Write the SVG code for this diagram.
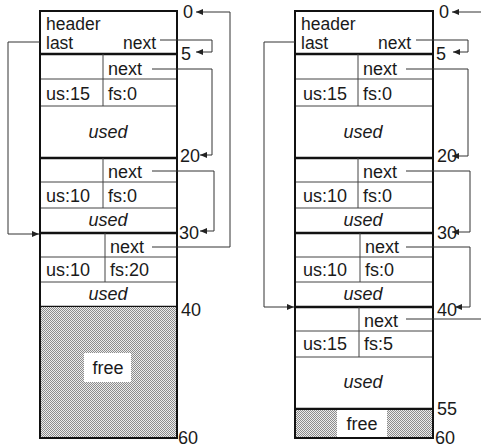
<svg xmlns="http://www.w3.org/2000/svg" width="481" height="447" viewBox="0 0 481 447">
<style>
text{font-family:"Liberation Sans",Arial,sans-serif;font-size:18px;fill:#1a1a1a}
.hd{font-size:17.5px}
.it{font-style:italic}
.mid{text-anchor:middle}
.box{fill:none;stroke:#111;stroke-width:2}
.thick{stroke:#111;stroke-width:2.5}
.thin{stroke:#444;stroke-width:1}
.conn{fill:none;stroke:#333;stroke-width:1}
</style>
<defs>
<pattern id="dots" x="0" y="0" width="2" height="2" patternUnits="userSpaceOnUse">
<rect width="2" height="2" fill="#ececec"/>
<rect width="1" height="1" fill="#8c8c8c"/>
<rect x="1" y="1" width="1" height="1" fill="#8c8c8c"/>
</pattern>
<marker id="arr" markerWidth="7" markerHeight="6" refX="7" refY="3" orient="auto" markerUnits="userSpaceOnUse">
<path d="M0,0 L7,3 L0,6 z" fill="#222"/>
</marker>
</defs>

<g id="left-heap">
<g id="L-header">
<text class="hd" x="46" y="30">header</text>
<text class="hd" x="46" y="49">last</text>
<text class="hd" x="123" y="49">next</text>
<line class="thick" x1="40" y1="54" x2="177" y2="54"/>
</g>
<g id="L-block5">
<line class="thin" x1="103" y1="54" x2="103" y2="106"/>
<line class="thin" x1="40" y1="79" x2="177" y2="79"/>
<line class="thin" x1="40" y1="106" x2="177" y2="106"/>
<text x="108" y="75">next</text>
<text x="46" y="100">us:15</text>
<text x="108" y="100">fs:0</text>
<text class="it mid" x="108" y="138">used</text>
<line class="thick" x1="40" y1="158" x2="177" y2="158"/>
</g>
<g id="L-block20">
<line class="thin" x1="103" y1="158" x2="103" y2="208"/>
<line class="thin" x1="40" y1="182" x2="177" y2="182"/>
<line class="thin" x1="40" y1="208" x2="177" y2="208"/>
<text x="108" y="178">next</text>
<text x="46" y="202">us:10</text>
<text x="108" y="202">fs:0</text>
<text class="it mid" x="108" y="226">used</text>
<line class="thick" x1="40" y1="233" x2="177" y2="233"/>
</g>
<g id="L-block30">
<line class="thin" x1="105" y1="233" x2="105" y2="282"/>
<line class="thin" x1="40" y1="257" x2="177" y2="257"/>
<line class="thin" x1="40" y1="282" x2="177" y2="282"/>
<text x="110" y="253">next</text>
<text x="46" y="276">us:10</text>
<text x="110" y="276">fs:20</text>
<text class="it mid" x="108" y="300">used</text>
<line class="thick" x1="40" y1="307" x2="177" y2="307"/>
</g>
<g id="L-free">
<rect x="40" y="307" width="137" height="131" fill="url(#dots)"/>
<rect x="84" y="353" width="47" height="29" fill="#fff"/>
<text class="mid" x="108" y="374">free</text>
</g>
<rect class="box" x="40" y="11" width="137" height="427"/>
<g id="L-labels">
<text x="183" y="18">0</text>
<text x="181" y="60">5</text>
<text x="180" y="162">20</text>
<text x="179" y="239">30</text>
<text x="181" y="316">40</text>
<text x="178" y="444">60</text>
</g>
</g>

<g id="right-heap">
<g id="R-header">
<text class="hd" x="301" y="30">header</text>
<text class="hd" x="301" y="49">last</text>
<text class="hd" x="378" y="49">next</text>
<line class="thick" x1="295" y1="54" x2="433" y2="54"/>
</g>
<g id="R-block5">
<line class="thin" x1="358" y1="54" x2="358" y2="106"/>
<line class="thin" x1="295" y1="79" x2="433" y2="79"/>
<line class="thin" x1="295" y1="106" x2="433" y2="106"/>
<text x="363" y="75">next</text>
<text x="303" y="100">us:15</text>
<text x="363" y="100">fs:0</text>
<text class="it mid" x="363" y="138">used</text>
<line class="thick" x1="295" y1="158" x2="433" y2="158"/>
</g>
<g id="R-block20">
<line class="thin" x1="358" y1="158" x2="358" y2="208"/>
<line class="thin" x1="295" y1="182" x2="433" y2="182"/>
<line class="thin" x1="295" y1="208" x2="433" y2="208"/>
<text x="363" y="178">next</text>
<text x="303" y="202">us:10</text>
<text x="363" y="202">fs:0</text>
<text class="it mid" x="363" y="226">used</text>
<line class="thick" x1="295" y1="233" x2="433" y2="233"/>
</g>
<g id="R-block30">
<line class="thin" x1="360" y1="233" x2="360" y2="282"/>
<line class="thin" x1="295" y1="257" x2="433" y2="257"/>
<line class="thin" x1="295" y1="282" x2="433" y2="282"/>
<text x="365" y="253">next</text>
<text x="303" y="276">us:10</text>
<text x="365" y="276">fs:0</text>
<text class="it mid" x="363" y="300">used</text>
<line class="thick" x1="295" y1="307" x2="433" y2="307"/>
</g>
<g id="R-block40">
<line class="thin" x1="359" y1="307" x2="359" y2="357"/>
<line class="thin" x1="295" y1="331" x2="433" y2="331"/>
<line class="thin" x1="295" y1="357" x2="433" y2="357"/>
<text x="364" y="327">next</text>
<text x="303" y="350">us:15</text>
<text x="364" y="350">fs:5</text>
<text class="it mid" x="363" y="388">used</text>
<line class="thick" x1="295" y1="409" x2="433" y2="409"/>
</g>
<g id="R-free">
<rect x="295" y="410" width="138" height="28" fill="url(#dots)"/>
<rect x="337" y="410" width="50" height="28" fill="#fff"/>
<text class="mid" x="362" y="430">free</text>
</g>
<rect class="box" x="295" y="11" width="138" height="427"/>
<g id="R-labels">
<text x="439" y="18">0</text>
<text x="436" y="60">5</text>
<text x="437" y="162">20</text>
<text x="437" y="239">30</text>
<text x="437" y="316">40</text>
<text x="437" y="415">55</text>
<text x="435" y="444">60</text>
</g>
</g>

<g id="connectors">
<path class="conn" d="M160,40 H212 V52 H196" marker-end="url(#arr)"/>
<path class="conn" d="M152,69 H212 V155 H200" marker-end="url(#arr)"/>
<path class="conn" d="M152,171 H214 V231 H200" marker-end="url(#arr)"/>
<path class="conn" d="M152,247 H230 V12 H196" marker-end="url(#arr)"/>
<path class="conn" d="M40,42 H8 V234 H39" marker-end="url(#arr)"/>

<path class="conn" d="M416,40 H468 V52 H453" marker-end="url(#arr)"/>
<path class="conn" d="M406,69 H468 V156 H452" marker-end="url(#arr)"/>
<path class="conn" d="M406,171 H470 V232 H452" marker-end="url(#arr)"/>
<path class="conn" d="M406,247 H470 V307 H455" marker-end="url(#arr)"/>
<path class="conn" d="M406,319 H481"/>
<path class="conn" d="M481,12 H452" marker-end="url(#arr)"/>
<path class="conn" d="M295,42 H264 V307 H294" marker-end="url(#arr)"/>
</g>
</svg>
